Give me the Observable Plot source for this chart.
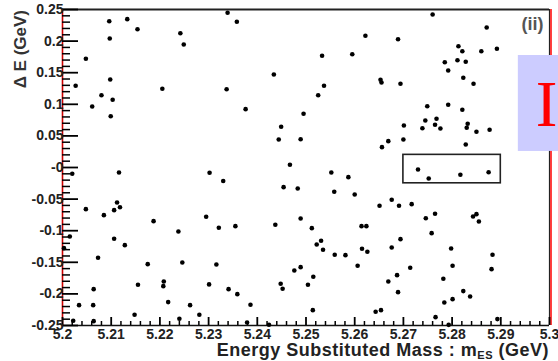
<!DOCTYPE html>
<html>
<head>
<meta charset="utf-8">
<script src="https://cdn.jsdelivr.net/npm/d3@7"></script>
<script src="https://cdn.jsdelivr.net/npm/@observablehq/plot@0.6"></script>
<style>
  html, body { margin: 0; padding: 0; background: white; overflow: hidden; }
</style>
</head>
<body>
<div id="chart"></div>
<script>
// ---- data ----
const mES = [
  5.2096, 5.2133, 5.2154, 5.2242, 5.2249, 5.2097, 5.2048, 5.2098, 5.2027, 5.2205,
  5.2080, 5.2103, 5.2061, 5.2099, 5.2020, 5.2116, 5.2339, 5.2358, 5.2622, 5.2533,
  5.2595, 5.2434, 5.2653, 5.2655, 5.2337, 5.2537, 5.2525, 5.2376, 5.2495, 5.2449,
  5.2444, 5.2489, 5.2669, 5.2656, 5.2467, 5.2302, 5.2330, 5.2552, 5.2587, 5.2760,
  5.2871, 5.2689, 5.2813, 5.2821, 5.2860, 5.2892, 5.2785, 5.2811, 5.2828, 5.2792,
  5.2694, 5.2823, 5.2844, 5.2749, 5.2792, 5.2821, 5.2745, 5.2768, 5.2765, 5.2776,
  5.2739, 5.2701, 5.2832, 5.2830, 5.2850, 5.2877, 5.2700, 5.2828, 5.2730, 5.2752,
  5.2817, 5.2875, 5.2112, 5.2118, 5.2106, 5.2048, 5.2085, 5.2187, 5.2238, 5.2015,
  5.2106, 5.2128, 5.2003, 5.2073, 5.2175, 5.2246, 5.2208, 5.2207, 5.2155, 5.2064,
  5.2217, 5.2034, 5.2063, 5.2262, 5.2148, 5.2281, 5.2022, 5.2064, 5.2240, 5.2454,
  5.2483, 5.2558, 5.2600, 5.2651, 5.2295, 5.2321, 5.2355, 5.2437, 5.2489, 5.2512,
  5.2614, 5.2624, 5.2522, 5.2531, 5.2535, 5.2559, 5.2581, 5.2615, 5.2626, 5.2676,
  5.2316, 5.2606, 5.2476, 5.2489, 5.2515, 5.2301, 5.2448, 5.2452, 5.2504, 5.2669,
  5.2341, 5.2359, 5.2386, 5.2514, 5.2643, 5.2654, 5.2379, 5.2424, 5.2676, 5.2691,
  5.2717, 5.2746, 5.2765, 5.2843, 5.2850, 5.2855, 5.2758, 5.2694, 5.2798, 5.2883,
  5.2714, 5.2801, 5.2881, 5.2687, 5.2689, 5.2782, 5.2823, 5.2837, 5.2801, 5.2784,
  5.2766, 5.2793, 5.2893
];
const deltaE = [
  0.2315, 0.2347, 0.2188, 0.2125, 0.1946, 0.2041, 0.1720, 0.1393, 0.1293, 0.1245,
  0.1144, 0.1071, 0.0965, 0.0812, -0.0099, -0.0079, 0.2448, 0.2305, 0.2084, 0.1768,
  0.1793, 0.1472, 0.1388, 0.1345, 0.1239, 0.1293, 0.1144, 0.0923, 0.0850, 0.0644,
  0.0443, 0.0448, 0.0417, 0.0322, 0.0043, -0.0083, -0.0213, -0.0079, -0.0153, 0.2421,
  0.2215, 0.2030, 0.1919, 0.1840, 0.1840, 0.1878, 0.1666, 0.1698, 0.1673, 0.1535,
  0.1325, 0.1420, 0.1325, 0.0970, 0.0992, 0.0913, 0.0744, 0.0771, 0.0676, 0.0617,
  0.0622, 0.0665, 0.0692, 0.0629, 0.0565, 0.0597, 0.0443, 0.0364, -0.0031, -0.0174,
  -0.0115, -0.0075, -0.0553, -0.0628, -0.0675, -0.0659, -0.0754, -0.0849, -0.1012, -0.1091,
  -0.1128, -0.1229, -0.1276, -0.1428, -0.1529, -0.1502, -0.1803, -0.1877, -0.1855, -0.1925,
  -0.2130, -0.2178, -0.2178, -0.2178, -0.2330, -0.2330, -0.2425, -0.2431, -0.2393, -0.0311,
  -0.0332, -0.0384, -0.0427, -0.0605, -0.0780, -0.0954, -0.0928, -0.0906, -0.0806, -0.0960,
  -0.0928, -0.0928, -0.1218, -0.1159, -0.1301, -0.1381, -0.1387, -0.1286, -0.1333, -0.1265,
  -0.1534, -0.1555, -0.1629, -0.1577, -0.1729, -0.1850, -0.1839, -0.1918, -0.1855, -0.1803,
  -0.1925, -0.2004, -0.2172, -0.2257, -0.2282, -0.2257, -0.2452, -0.2488, -0.0511, -0.0605,
  -0.0580, -0.0802, -0.0732, -0.0775, -0.0738, -0.0854, -0.1039, -0.1134, -0.1281, -0.1381,
  -0.1586, -0.1555, -0.1608, -0.1703, -0.1972, -0.1760, -0.1956, -0.2040, -0.2083, -0.2135,
  -0.2368, -0.2490, -0.2399
];
const xDomain = [5.2, 5.3];
const yDomain = [-0.25, 0.25];
const xMajor = [5.2, 5.21, 5.22, 5.23, 5.24, 5.25, 5.26, 5.27, 5.28, 5.29, 5.3];
const xTickLabels = ["5.2", "5.21", "5.22", "5.23", "5.24", "5.25", "5.26", "5.27", "5.28", "5.29", "5.3"];
const yMajor = [-0.25, -0.2, -0.15, -0.1, -0.05, 0, 0.05, 0.1, 0.15, 0.2, 0.25];
const yTickLabels = ["-0.25", "-0.2", "-0.15", "-0.1", "-0.05", "-0", "0.05", "0.1", "0.15", "0.2", "0.25"];
const xMinorStep = 0.002;
const yMinorStep = 0.01;
const boxX = [5.27, 5.29];
const boxY = [-0.025, 0.02];
const panelLabel = "(ii)";
const overlayX = [5.2936, 5.302];
const overlayY = [0.0254, 0.1772];
const overlayLetter = ["I"];
const overlayLetterPos = [5.2972, 0.0649];
const xTitle = ["Energy Substituted Mass : m", "ES", " (GeV)"];
const yTitle = "\u0394 E (GeV)";

// ---- derived ----
const points = mES.map((m, i) => ({m, e: deltaE[i]}));
const near = (a, b) => Math.abs(a - b) < 1e-9;
const xMinor = d3.range(Math.round((xDomain[1] - xDomain[0]) / xMinorStep) + 1)
  .map(i => +(xDomain[0] + i * xMinorStep).toFixed(4))
  .filter(v => !xMajor.some(t => near(t, v)));
const yMinor = d3.range(Math.round((yDomain[1] - yDomain[0]) / yMinorStep) + 1)
  .map(i => +(yDomain[0] + i * yMinorStep).toFixed(4))
  .filter(v => !yMajor.some(t => near(t, v)));
const fmtX = d => xTickLabels[xMajor.findIndex(t => near(t, d))];
const fmtY = d => yTickLabels[yMajor.findIndex(t => near(t, d))];

const W = 558, H = 361, mL = 62, mR = 9, mT = 9, mB = 36;
const font = "'Liberation Sans', Arial, sans-serif";
const tickStyle = {stroke: "black", text: null, label: null};

const plot = Plot.plot({
  width: W, height: H,
  marginLeft: mL, marginRight: mR, marginTop: mT, marginBottom: mB,
  x: {domain: xDomain},
  y: {domain: yDomain},
  style: {fontFamily: font, background: "white"},
  marks: [
    // frame
    Plot.ruleY([yDomain[1]], {stroke: "#222", strokeWidth: 2}),
    Plot.ruleY([yDomain[0]], {stroke: "#111", strokeWidth: 1.6}),
    Plot.ruleX([xDomain[0]], {stroke: "#cc0000", strokeWidth: 1.6}),
    Plot.ruleX([xDomain[1]], {stroke: "#222", strokeWidth: 1.2}),
    Plot.ruleX([xDomain[1]], {stroke: "red", strokeWidth: 1.5, dx: 1.5}),
    // inward ticks
    Plot.axisY(yMinor, {...tickStyle, tickSize: -8, strokeWidth: 1.5}),
    Plot.axisY(yMajor, {...tickStyle, tickSize: -16, strokeWidth: 1.8}),
    Plot.axisX(xMinor, {...tickStyle, tickSize: -4, strokeWidth: 1.5}),
    Plot.axisX(xMajor, {...tickStyle, tickSize: -8, strokeWidth: 1.8}),
    // tick labels
    Plot.axisX(xMajor, {tickSize: 0, tickPadding: 4, tickFormat: fmtX, fontSize: 14, fontWeight: "bold", fill: "#222", label: null}),
    Plot.axisY(yMajor, {tickSize: 0, tickPadding: -1, tickFormat: fmtY, fontSize: 14, fontWeight: "bold", fill: "#222", label: null}),
    // data
    Plot.dot(points, {x: "m", y: "e", r: 2.3, fill: "black", stroke: "none"}),
    // signal box
    Plot.rect([0], {x1: boxX[0], x2: boxX[1], y1: boxY[0], y2: boxY[1], fill: "none", stroke: "#222", strokeWidth: 1.6}),
    // panel label
    Plot.text([panelLabel], {text: d => d, frameAnchor: "top-right", dx: -6, dy: 14.5, lineAnchor: "middle", textAnchor: "end", fontSize: 18, fontWeight: "bold", fill: "#555"}),
    // slide overlay
    Plot.rect([0], {x1: overlayX[0], x2: overlayX[1], y1: overlayY[0], y2: overlayY[1], fill: "#ccccff"}),
    Plot.text(overlayLetter, {text: d => d, x: overlayLetterPos[0], y: overlayLetterPos[1], textAnchor: "start", lineAnchor: "bottom", fontSize: 65, fontFamily: "'Liberation Serif', 'Times New Roman', serif", fill: "red"})
  ]
});

const svg = d3.select(plot);
const xt = svg.append("text")
  .attr("x", W - mR).attr("y", H - 5)
  .attr("text-anchor", "end")
  .attr("font-family", font).attr("font-size", 18).attr("letter-spacing", 0.5)
  .attr("font-weight", "bold").attr("fill", "#222");
xt.append("tspan").text(xTitle[0]);
xt.append("tspan").attr("font-size", 11).attr("dy", 2.5).text(xTitle[1]);
xt.append("tspan").attr("font-size", 18).attr("dy", -2.5).text(xTitle[2]);

svg.append("text")
  .attr("transform", `translate(26,10) rotate(-90)`)
  .attr("text-anchor", "end")
  .attr("font-family", font).attr("font-size", 17).attr("font-weight", "bold").attr("fill", "#333")
  .text(yTitle);

document.getElementById("chart").appendChild(plot);
</script>
</body>
</html>
